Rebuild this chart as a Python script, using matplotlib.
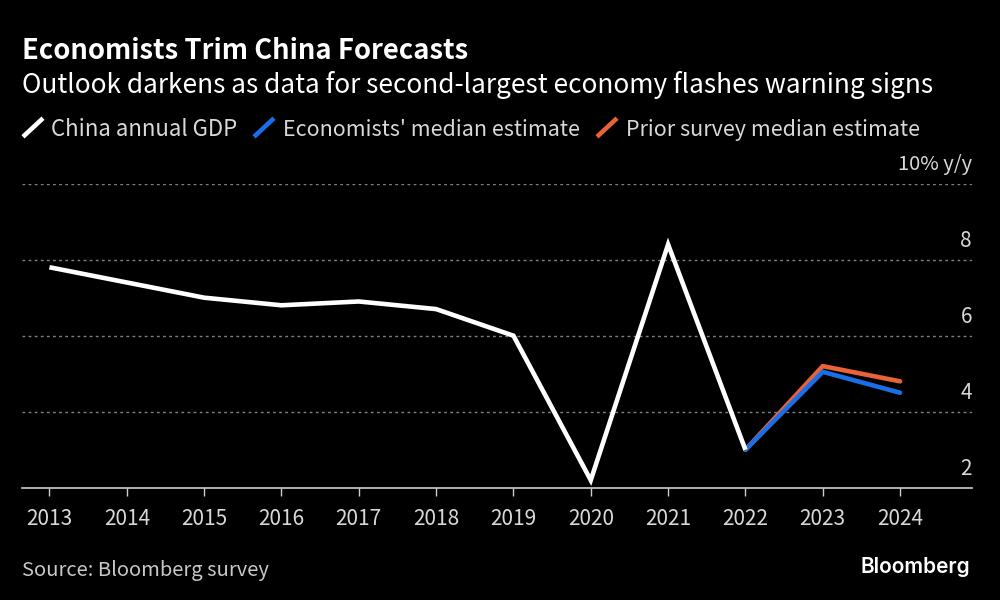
import matplotlib
matplotlib.use("Agg")
import matplotlib.pyplot as plt
from matplotlib.lines import Line2D

years = [2013, 2014, 2015, 2016, 2017, 2018, 2019, 2020, 2021, 2022, 2023, 2024]
gdp = [7.8, 7.4, 7.0, 6.8, 6.9, 6.7, 6.0, 2.2, 8.4, 3.0, None, None]
est_years = [2022, 2023, 2024]
median_est = [3.0, 5.05, 4.5]
prior_est = [3.0, 5.2, 4.8]
yticks = [4, 6, 8, 10]
ylabels = ["4", "6", "8", "10% y/y"]

plt.rcParams['font.family'] = ['Noto Sans CJK SC', 'DejaVu Sans']
BG = "black"
fig = plt.figure(figsize=(10, 6), dpi=100, facecolor=BG)
ax = fig.add_axes([0.022, 0.187, 0.95, 0.507], facecolor=BG)

ax.set_xlim(2012.645, 2024.93)
ax.set_ylim(2, 10)

for y in yticks:
    ax.axhline(y, color="#808080", lw=1, ls=(0, (2.0, 2.4)), zorder=1)

yrs = [a for a, b in zip(years, gdp) if b is not None]
vals = [b for b in gdp if b is not None]
ax.plot(est_years, prior_est, color="#e8623a", lw=3.3, zorder=3, solid_joinstyle="round", solid_capstyle="round")
ax.plot(est_years, median_est, color="#1a6fe8", lw=3.3, zorder=4, solid_joinstyle="round", solid_capstyle="round")
ax.plot(yrs, vals, color="white", lw=3.3, zorder=5, solid_joinstyle="miter", solid_capstyle="butt")

for s in ["top", "left", "right"]:
    ax.spines[s].set_visible(False)
ax.spines["bottom"].set_color("#cfcfcf")
ax.spines["bottom"].set_linewidth(1.2)

ax.set_xticks(years)
ax.set_xticklabels([str(y) for y in years], fontsize=15, color="#d8d8d8")
ax.tick_params(axis="x", color="#cfcfcf", length=6, width=1, pad=8.5)
ax.set_yticks([])

for y, l in zip(yticks + [2], ylabels + ["2"]):
    ax.text(1.0, y + 0.5, l, transform=ax.get_yaxis_transform(), ha="right", va="center",
            fontsize=15 if l != "10% y/y" else 14.5, color="#d8d8d8")

fig.text(0.022, 0.915, "Economists Trim China Forecasts", fontsize=19.7, fontweight="bold",
         color="white", va="center")
fig.text(0.022, 0.858, "Outlook darkens as data for second-largest economy flashes warning signs",
         fontsize=18.9, color="white", va="center")

legend = [("China annual GDP", "white", 0.051, 0.023, 16),
          ("Economists' median estimate", "#1a6fe8", 0.283, 0.254, 15.5),
          ("Prior survey median estimate", "#e8623a", 0.626, 0.597, 15.5)]
for text, color, tx, lx, fs in legend:
    fig.add_artist(Line2D([lx, lx + 0.02], [0.772, 0.803], color=color, lw=3.3,
                          transform=fig.transFigure, solid_capstyle="butt"))
    fig.text(tx, 0.784, text, fontsize=fs, color="#d8d8d8", va="center")

fig.text(0.022, 0.049, "Source: Bloomberg survey", fontsize=14.5, color="#c8c8c8", va="center")
fig.text(0.97, 0.055, "Bloomberg", fontsize=15, fontweight=600, color="white", va="center", ha="right",
         family=["Inter", "DejaVu Sans"])

fig.savefig("out.png", dpi=100, facecolor=BG)
